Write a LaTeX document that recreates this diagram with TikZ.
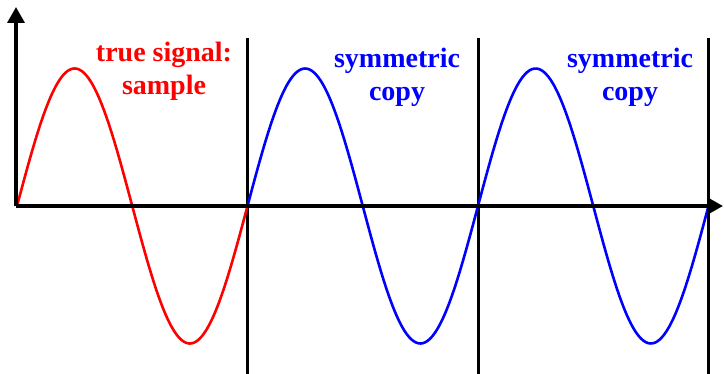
\documentclass[tikz,border=0pt]{standalone}
\usepackage{fontspec}
\setmainfont{Liberation Serif}
\usetikzlibrary{arrows.meta}
\tikzset{
  axis/.style={line width=3.4pt, -{Triangle[length=16pt,width=17pt]}},
  divider/.style={line width=3pt, black},
  wave/.style={line width=2.6pt, samples=200, smooth},
  lbl/.style={font=\fontsize{28}{32}\selectfont\bfseries, anchor=base, inner sep=0pt},
}
\begin{document}
\begin{tikzpicture}[x=1pt,y=-1pt]
\useasboundingbox (0,0) rectangle (724,374);
\coordinate (O) at (16,206);
\coordinate (ytop) at (16,7);
\coordinate (xend) at (723,206);
\coordinate (d1a) at (247,38); \coordinate (d1b) at (247,374);
\coordinate (d2a) at (478,38); \coordinate (d2b) at (478,374);
\coordinate (d3a) at (708,38); \coordinate (d3b) at (708,374);
\draw[divider] (d1a) -- (d1b);
\draw[divider] (d2a) -- (d2b);
\draw[divider] (d3a) -- (d3b);
\draw[wave, red, domain=17:247] plot (\x, {206-137.5*sin((\x-17)/230.5*360)});
\draw[wave, blue, domain=247:708] plot (\x, {206-137.5*sin((\x-17)/230.5*360)});
\draw[axis] (O) -- (ytop);
\draw[axis] (O) -- (xend);
\node[lbl, text=red] (r1) at (164,62) {true signal:};
\node[lbl, text=red] (r2) at (164,94.5) {sample};
\node[lbl, text=blue] (b1) at (397,68) {symmetric};
\node[lbl, text=blue] (b2) at (397,101) {copy};
\node[lbl, text=blue] (c1) at (630,68) {symmetric};
\node[lbl, text=blue] (c2) at (630,101) {copy};
\end{tikzpicture}
\end{document}
